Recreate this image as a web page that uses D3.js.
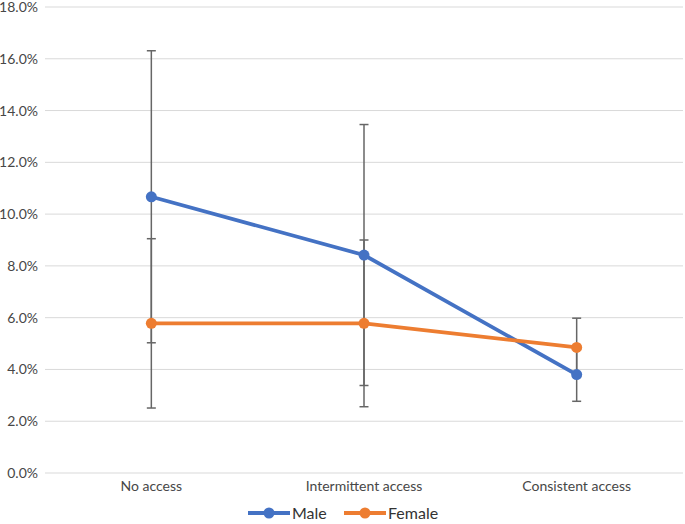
<!DOCTYPE html>
<html>
<head>
<meta charset="utf-8">
<script src="https://cdn.jsdelivr.net/npm/d3@7"></script>
<style>
    body { margin: 0; background: #fff; }
    text { font-family: Lato, "Open Sans", sans-serif; }
</style>
</head>
<body>
<div id="chart"></div>
<script>
// values
let categories = ["No access", "Intermittent access", "Consistent access"];
let seriesNames = ["Male", "Female"];
let maleValues = [0.1067, 0.0842, 0.0380];
let maleErrors = [0.0564, 0.0504, 0.0103];
let femaleValues = [0.0578, 0.0578, 0.0485];
let femaleErrors = [0.0327, 0.0322, 0.0113];
let yTicks = [0, 0.02, 0.04, 0.06, 0.08, 0.10, 0.12, 0.14, 0.16, 0.18];
let colors = ["#4472c4", "#ed7d31"];

let width = 685;
let height = 524;
let textColor = "#474747";

let svg = d3.select("#chart")
    .append("svg")
    .attr("width", width)
    .attr("height", height);

let x = d3.scaleBand()
    .domain(categories)
    .range([45, 683])
    .padding(0);

let y = d3.scaleLinear()
    .domain([0, 0.18])
    .range([473, 7]);

// gridlines
svg.append("g")
    .selectAll("line")
    .data(yTicks)
    .enter()
    .append("line")
    .attr("x1", 45)
    .attr("x2", 683)
    .attr("y1", d => y(d))
    .attr("y2", d => y(d))
    .attr("stroke", "#d9d9d9")
    .attr("stroke-width", 1);

// y axis labels
let yAxis = d3.axisLeft(y)
    .tickValues(yTicks)
    .tickFormat(d3.format(".1%"))
    .tickSize(0)
    .tickPadding(7);

let yG = svg.append("g")
    .attr("transform", "translate(45,0)")
    .call(yAxis);
yG.select(".domain").remove();
yG.selectAll("text")
    .style("font-size", "14px")
    .style("font-family", "Lato, sans-serif")
    .attr("fill", textColor);

// x axis labels
let xAxis = d3.axisBottom(x).tickSize(0).tickPadding(8);
let xG = svg.append("g")
    .attr("transform", "translate(0,473)")
    .call(xAxis);
xG.select(".domain").remove();
xG.selectAll("text")
    .style("font-size", "14px")
    .style("font-family", "Lato, sans-serif")
    .attr("fill", textColor);

let series = [
    { name: seriesNames[0], values: maleValues, errors: maleErrors, color: colors[0] },
    { name: seriesNames[1], values: femaleValues, errors: femaleErrors, color: colors[1] }
];

let cx = d => x(d) + x.bandwidth() / 2;
let capW = 4.5;

// error bars
series.forEach(s => {
    let g = svg.append("g");
    categories.forEach((c, i) => {
        let hi = s.values[i] + s.errors[i];
        let lo = s.values[i] - s.errors[i];
        g.append("line")
            .attr("x1", cx(c)).attr("x2", cx(c))
            .attr("y1", y(hi)).attr("y2", y(lo))
            .attr("stroke", "#666666").attr("stroke-width", 1.5);
        [hi, lo].forEach(v => {
            g.append("line")
                .attr("x1", cx(c) - capW).attr("x2", cx(c) + capW)
                .attr("y1", y(v)).attr("y2", y(v))
                .attr("stroke", "#666666").attr("stroke-width", 1.5);
        });
    });
});

// lines and markers
let line = d3.line()
    .x((d, i) => cx(categories[i]))
    .y(d => y(d));

series.forEach(s => {
    svg.append("path")
        .datum(s.values)
        .attr("fill", "none")
        .attr("stroke", s.color)
        .attr("stroke-width", 3.8)
        .attr("stroke-linejoin", "round")
        .attr("d", line);

    svg.append("g")
        .selectAll("circle")
        .data(s.values)
        .enter()
        .append("circle")
        .attr("cx", (d, i) => cx(categories[i]))
        .attr("cy", d => y(d))
        .attr("r", 5.5)
        .attr("fill", s.color);
});

// legend
let legendX = [248, 344];
let legendY = 513;
series.forEach((s, i) => {
    let g = svg.append("g")
        .attr("transform", "translate(" + legendX[i] + "," + legendY + ")");
    g.append("line")
        .attr("x1", 0).attr("x2", 42)
        .attr("y1", 0).attr("y2", 0)
        .attr("stroke", s.color)
        .attr("stroke-width", 3.8);
    g.append("circle")
        .attr("cx", 21).attr("cy", 0)
        .attr("r", 5.5)
        .attr("fill", s.color);
    g.append("text")
        .attr("x", 44)
        .attr("y", 0)
        .attr("dy", "0.35em")
        .style("font-size", "16px")
        .style("fill", "#333333")
        .text(s.name);
});
</script>
</body>
</html>
